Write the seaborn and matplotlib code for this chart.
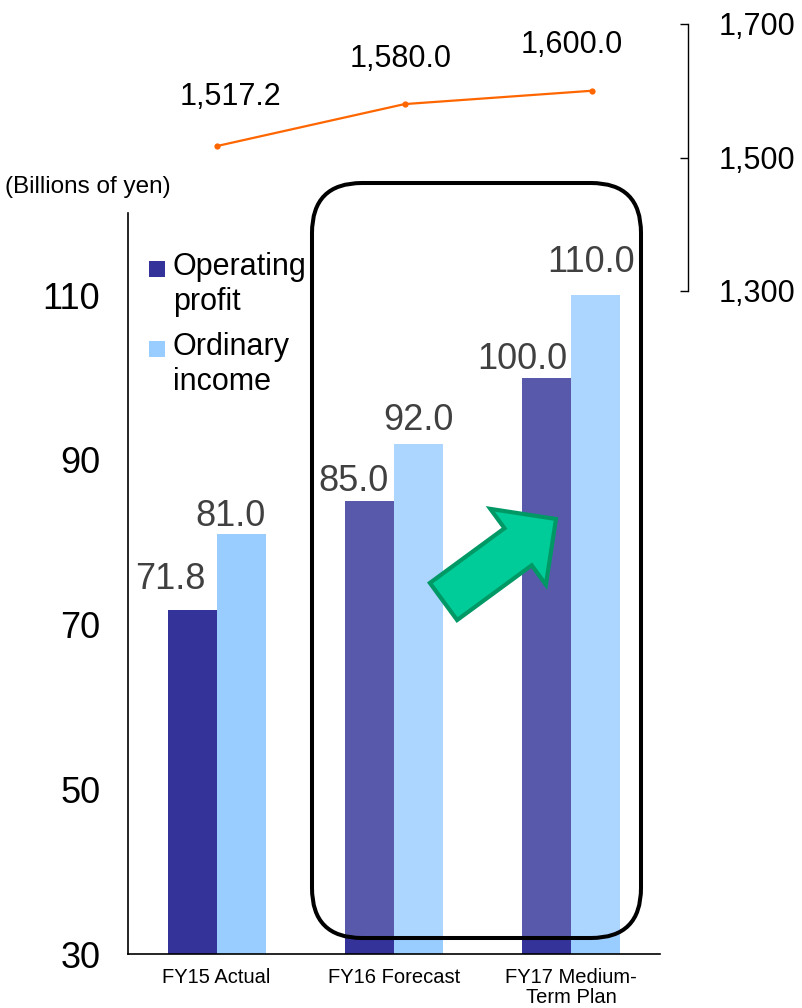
import numpy as np
import pandas as pd
import seaborn as sns
import matplotlib.pyplot as plt
from matplotlib.patches import FancyBboxPatch, FancyArrow, Rectangle

# data
categories = ["FY15 Actual", "FY16 Forecast", "FY17 Medium-\nTerm Plan"]
operating_profit = [71.8, 85.0, 100.0]
ordinary_income = [81.0, 92.0, 110.0]
net_sales = [1517.2, 1580.0, 1600.0]
series_names = ["Operating\nprofit", "Ordinary\nincome"]
left_ticks = [30, 50, 70, 90, 110]
right_ticks = [1300, 1500, 1700]

bar_colors = ["#333399", "#99CCFF"]
line_color = "#FF6600"

sns.set_theme(style="white")
plt.rcParams["font.family"] = ["Liberation Sans", "DejaVu Sans"]
plt.rcParams["text.color"] = "black"

W, H = 802, 1008
fig = plt.figure(figsize=(W / 100, H / 100), dpi=100)


def frac(x0, y0, x1, y1):
    # pixel box (top-left origin) -> figure fraction rect
    return [x0 / W, 1 - y1 / H, (x1 - x0) / W, (y1 - y0) / H]


def inch(x, y):
    # pixel position (top-left origin) -> inches for fig.dpi_scale_trans
    return x / 100, (H - y) / 100


df = pd.DataFrame({
    "category": categories * 2,
    "series": [series_names[0]] * 3 + [series_names[1]] * 3,
    "value": operating_profit + ordinary_income,
})

# ---- bar chart ----
ax = fig.add_axes(frac(128, 213, 660, 954))
sns.barplot(data=df, x="category", y="value", hue="series", palette=bar_colors,
            width=0.554, gap=0, saturation=1, ax=ax, legend=False,
            edgecolor="none", linewidth=0)
ax.set_xlim(-0.5, 2.5)
ax.set_ylim(30, 120)
ax.set_yticks(left_ticks)
ax.set_xlabel("")
ax.set_ylabel("")
ax.tick_params(axis="y", length=0, pad=20, labelsize=26, labelcolor="black")
ax.tick_params(axis="x", length=0, pad=10, labelsize=14.5, labelcolor="black")
for lab in ax.get_xticklabels():
    lab.set_linespacing(1.1)
for s in ["top", "right"]:
    ax.spines[s].set_visible(False)
for s in ["left", "bottom"]:
    ax.spines[s].set_color("black")
    ax.spines[s].set_linewidth(1.2)

# value labels (per-label nudges in px, as in the original layout)
label_dx = [[-22, -16, -24], [-11, 0, -5]]
label_dy = [[30, 20, 18], [18, 23, 33]]
for i, cont in enumerate(ax.containers):
    for j, bar in enumerate(cont):
        xc = bar.get_x() + bar.get_width() / 2
        ax.annotate(f"{bar.get_height():.1f}", (xc, bar.get_height()),
                    xytext=(label_dx[i][j] * 0.72, label_dy[i][j] * 0.72),
                    textcoords="offset points", ha="center", va="center",
                    fontsize=26, color="#404040", zorder=6, annotation_clip=False)

# legend drawn by hand so the swatch sits beside the first line
legend_top = [252, 332]
for i, name in enumerate(series_names):
    sq = Rectangle(inch(149, legend_top[i] + 25), 0.16, 0.16,
                   transform=fig.dpi_scale_trans,
                   facecolor=bar_colors[i], edgecolor="none", zorder=6)
    ax.add_artist(sq)
    sq.set_clip_on(False)
    fig.text(*inch(173, legend_top[i]), name, transform=fig.dpi_scale_trans,
             fontsize=22, va="top", ha="left", linespacing=1.2, zorder=6,
             color="black")

# rounded highlight box over FY16 / FY17
box = FancyBboxPatch(inch(312, 938), 3.29, 7.55, boxstyle="round,pad=0,rounding_size=0.5",
                     transform=fig.dpi_scale_trans, facecolor=(1, 1, 1, 0.19),
                     edgecolor="black", linewidth=2.9, zorder=2)
ax.add_artist(box)
box.set_clip_on(False)

# green arrow
arrow = FancyArrow(*inch(443.5, 601.5), 1.125, 0.825, width=0.46, head_width=0.94,
                   head_length=0.47, length_includes_head=True,
                   transform=fig.dpi_scale_trans, facecolor="#00CC99",
                   edgecolor="#009966", linewidth=3, zorder=4)
ax.add_artist(arrow)
arrow.set_clip_on(False)

fig.text(*inch(5, 193), "(Billions of yen)", transform=fig.dpi_scale_trans,
         fontsize=17.5, va="baseline", ha="left", color="black")

# ---- net sales line on top ----
lax = fig.add_axes(frac(128, 24, 688, 291))
lax.patch.set_alpha(0)
sns.lineplot(x=np.arange(len(net_sales)), y=net_sales, ax=lax, color=line_color,
             marker="o", markersize=4.5, markeredgewidth=0, linewidth=1.6)
lax.set_xlim(-0.475, 2.512)
lax.set_ylim(1300, 1700)
lax.set_xticks([])
lax.yaxis.tick_right()
lax.set_yticks(right_ticks)
lax.set_yticklabels([f"{v:,}" for v in right_ticks])
lax.tick_params(axis="y", direction="in", length=6, width=1, pad=22,
                labelsize=22, labelcolor="black", color="black")
for s in ["left", "top", "bottom"]:
    lax.spines[s].set_visible(False)
lax.spines["right"].set_color("black")
lax.spines["right"].set_linewidth(1)

line_dx = [13, -4, -20]
line_dy = [49, 45, 46]
for j, v in enumerate(net_sales):
    lax.annotate(f"{v:,.1f}", (j, v), xytext=(line_dx[j] * 0.72, line_dy[j] * 0.72),
                 textcoords="offset points", ha="center", va="center",
                 fontsize=22, color="black", annotation_clip=False)

fig.savefig("out.png", dpi=100)
